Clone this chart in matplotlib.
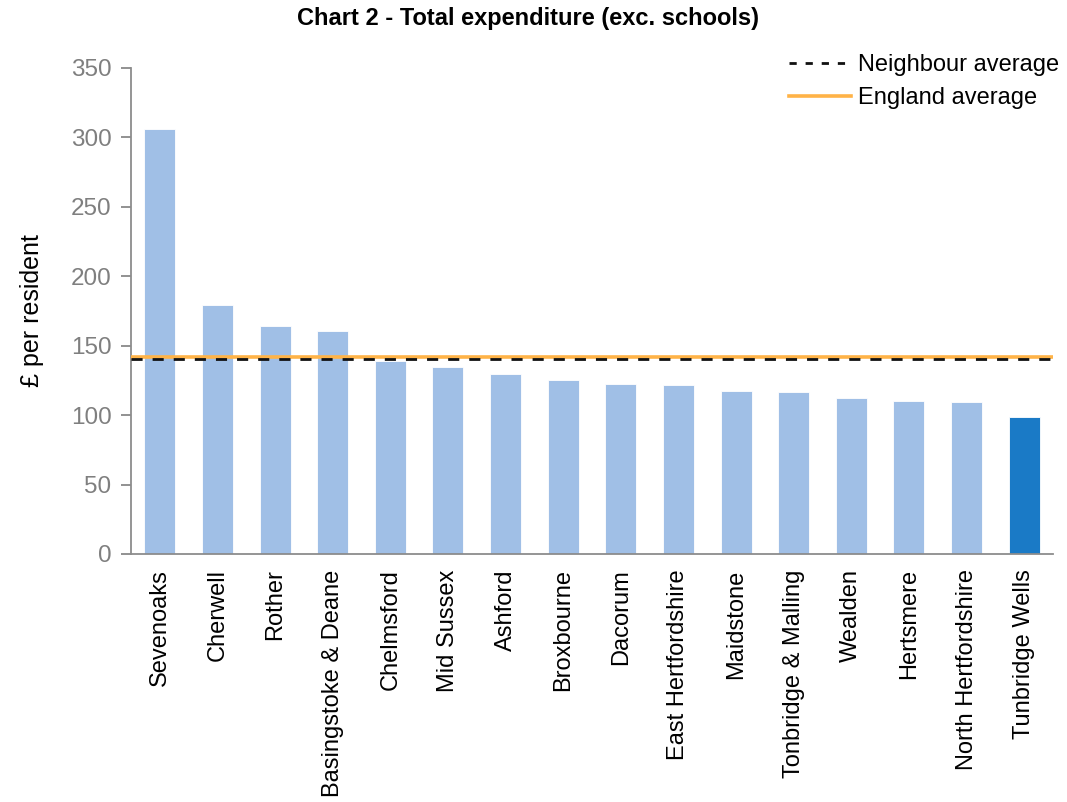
import matplotlib
matplotlib.use("Agg")
import matplotlib.pyplot as plt
from matplotlib.lines import Line2D

plt.rcParams['font.family'] = ['Liberation Sans', 'DejaVu Sans']

councils = ["Sevenoaks", "Cherwell", "Rother", "Basingstoke & Deane", "Chelmsford",
            "Mid Sussex", "Ashford", "Broxbourne", "Dacorum", "East Hertfordshire",
            "Maidstone", "Tonbridge & Malling", "Wealden", "Hertsmere",
            "North Hertfordshire", "Tunbridge Wells"]
values = [306.3, 179.6, 164.2, 160.3, 138.7, 134.7, 129.3, 125.0, 122.6, 121.9,
          117.4, 116.9, 112.6, 110.1, 109.7, 98.4]
highlight = "Tunbridge Wells"
neighbour_avg = 140.4
england_avg = 141.6
yticks = [0, 50, 100, 150, 200, 250, 300, 350]

fig = plt.figure(figsize=(10.67, 8.02), dpi=100)
ax = fig.add_axes([131/1067, 1 - 554/802, (1053-131)/1067, (554-68)/802])

colors = ["#1A7AC6" if c == highlight else "#A0BFE6" for c in councils]
x = list(range(len(councils)))
ax.bar(x, values, width=0.54, color=colors, edgecolor="white", linewidth=0.6, zorder=2)

ax.axhline(england_avg, color="#FFB347", linewidth=2.6, zorder=3)
ax.axhline(neighbour_avg, color="#111111", linewidth=2, dashes=(4, 3.6), zorder=4)

ax.set_xlim(-0.5, len(councils) - 0.5)
ax.set_ylim(0, 350)
ax.set_yticks(yticks)
ax.set_yticklabels([str(v) for v in yticks], fontsize=17.5, color="#7F7F7F")
ax.set_xticks(x)
ax.set_xticklabels(councils, rotation=90, fontsize=17, color="black")
ax.tick_params(axis="x", length=0, pad=11)
ax.tick_params(axis="y", length=7, width=1.2, color="#7F7F7F", pad=7)

for s in ["top", "right"]:
    ax.spines[s].set_visible(False)
for s in ["left", "bottom"]:
    ax.spines[s].set_color("#8C8C8C")
    ax.spines[s].set_linewidth(1.3)

ax.set_ylabel("£ per resident", fontsize=18, labelpad=19)

fig.text(0.495, 1 - 19/802, "Chart 2 - Total expenditure (exc. schools)",
         ha="center", va="center", fontsize=17, fontweight="bold")

handles = [Line2D([0], [0], color="#111111", linewidth=2, dashes=(2.6, 3.2)),
           Line2D([0], [0], color="#FFB347", linewidth=2.6)]
leg = fig.legend(handles, ["Neighbour average", "England average"],
                 loc="upper right", bbox_to_anchor=(1080/1067, 1 - 33/802),
                 frameon=False, fontsize=17, handlelength=2.6, handletextpad=0.3,
                 labelspacing=0.47)

fig.savefig("out.png", dpi=100)
